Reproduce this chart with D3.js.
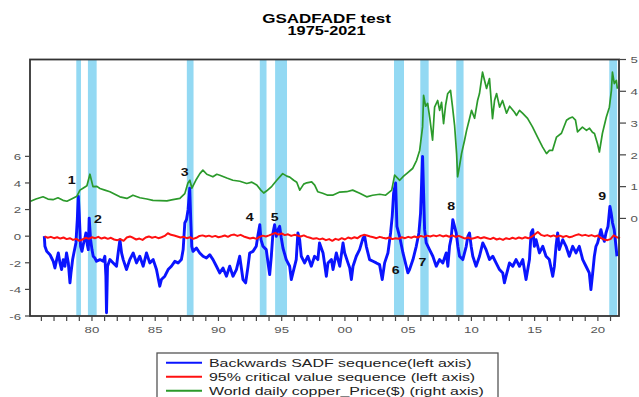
<!DOCTYPE html>
<html>
<head>
<meta charset="utf-8">
<script src="https://cdn.jsdelivr.net/npm/d3@7"></script>
<style>
  html, body { margin: 0; padding: 0; background: #fff; }
  svg { display: block; }
</style>
</head>
<body>
<svg id="chart" width="639" height="397"></svg>
<script>
// ---- Data -------------------------------------------------------------

// Bubble episodes (date-stamped periods where BSADF exceeds the 95% critical value)
const episodeStart = [1978.76, 1979.68, 1987.50, 1993.27, 1994.48, 2003.88, 2005.96, 2008.80, 2020.90];
const episodeEnd   = [1979.13, 1980.37, 1988.03, 1993.80, 1995.42, 2004.67, 2006.62, 2009.38, 2021.52];
const episodeLabel = ["1", "2", "3", "4", "5", "6", "7", "8", "9"];
// Where each episode number sits (year, left-axis value)
const episodeLabelYear  = [1978.39, 1980.47, 1987.34, 1992.48, 1994.45, 2004.01, 2006.12, 2008.41, 2020.34];
const episodeLabelValue = [4.16, 1.24, 4.74, 1.41, 1.39, -2.57, -1.99, 2.24, 2.99];

// World daily copper price, $/lb (right axis)
const copperYear = [
  1975.10, 1975.57, 1976.13, 1976.52, 1976.92, 1977.31, 1977.71, 1978.02, 1978.42, 1978.81,
  1979.05, 1979.29, 1979.60, 1979.84, 1980.08, 1980.39, 1980.63, 1981.02, 1981.42, 1981.81,
  1982.21, 1982.76, 1983.24, 1983.79, 1984.34, 1984.82, 1985.37, 1985.92, 1986.40, 1986.95,
  1987.34, 1987.58, 1987.74, 1987.90, 1988.21, 1988.53, 1988.77, 1989.08, 1989.56, 1989.87,
  1990.11, 1990.66, 1991.14, 1991.69, 1992.24, 1992.64, 1993.03, 1993.35, 1993.58, 1993.82,
  1994.22, 1994.61, 1995.08, 1995.40, 1995.64, 1995.95, 1996.19, 1996.43, 1996.74, 1996.98,
  1997.37, 1997.61, 1997.85, 1998.24, 1998.64, 1999.03, 1999.59, 2000.14, 2000.61, 2001.17,
  2001.72, 2002.19, 2002.75, 2003.22, 2003.70, 2003.93, 2004.33, 2004.64, 2004.88, 2005.35,
  2005.67, 2005.91, 2006.14, 2006.22, 2006.38, 2006.54, 2006.70, 2006.93, 2007.09, 2007.33,
  2007.49, 2007.64, 2007.80, 2007.96, 2008.12, 2008.35, 2008.51, 2008.67, 2008.83, 2008.91,
  2009.07, 2009.22, 2009.46, 2009.62, 2009.86, 2010.01, 2010.25, 2010.49, 2010.64, 2010.88,
  2011.04, 2011.20, 2011.43, 2011.67, 2011.83, 2011.99, 2012.23, 2012.46, 2012.78, 2013.02,
  2013.17, 2013.41, 2013.57, 2013.80, 2014.04, 2014.44, 2014.83, 2015.23, 2015.62, 2015.94,
  2016.17, 2016.41, 2016.73, 2017.12, 2017.52, 2017.75, 2017.99, 2018.23, 2018.39, 2018.78,
  2019.10, 2019.34, 2019.57, 2019.73, 2019.97, 2020.12, 2020.36, 2020.67, 2020.91, 2021.07,
  2021.15, 2021.30, 2021.46, 2021.54
];
const copperPrice = [
  0.53, 0.61, 0.68, 0.61, 0.59, 0.65, 0.57, 0.54, 0.62, 0.70,
  0.89, 0.95, 1.03, 1.39, 1.00, 1.01, 0.94, 0.89, 0.84, 0.76,
  0.68, 0.63, 0.73, 0.65, 0.61, 0.57, 0.56, 0.55, 0.59, 0.63,
  0.78, 1.11, 1.20, 0.95, 1.20, 1.41, 1.52, 1.39, 1.31, 1.39,
  1.36, 1.27, 1.20, 1.17, 1.10, 1.14, 1.05, 0.89, 0.80, 0.87,
  1.01, 1.20, 1.41, 1.33, 1.30, 1.20, 1.14, 0.89, 1.08, 1.12,
  1.15, 1.05, 0.84, 0.79, 0.73, 0.73, 0.83, 0.84, 0.89, 0.79,
  0.68, 0.73, 0.76, 0.73, 0.89, 1.36, 1.20, 1.33, 1.41, 1.57,
  1.83, 2.14, 2.88, 3.87, 3.53, 3.62, 3.19, 2.46, 3.50, 3.71,
  3.40, 3.65, 2.98, 3.56, 3.92, 4.03, 3.50, 2.93, 2.04, 1.31,
  1.67, 2.04, 2.46, 2.77, 3.15, 3.40, 3.15, 3.71, 3.93, 4.60,
  4.34, 4.09, 4.40, 3.14, 3.71, 3.93, 3.50, 3.71, 3.31, 3.53,
  3.46, 3.34, 3.24, 3.40, 3.31, 3.15, 2.88, 2.56, 2.25, 2.04,
  2.14, 2.14, 2.56, 2.68, 3.09, 3.15, 3.19, 3.09, 2.72, 2.87,
  2.77, 2.84, 2.71, 2.67, 2.35, 2.09, 2.68, 3.19, 3.50, 4.03,
  4.60, 4.24, 4.34, 4.08
];

// Backwards SADF sequence (left axis)
const sadfYear = [
  1976.23, 1976.28, 1976.42, 1976.68, 1976.81, 1976.94, 1977.07, 1977.21, 1977.34, 1977.47,
  1977.60, 1977.73, 1977.86, 1977.99, 1978.13, 1978.26, 1978.34, 1978.47, 1978.57, 1978.73,
  1978.84, 1978.92, 1978.99, 1979.10, 1979.21, 1979.31, 1979.44, 1979.52, 1979.63, 1979.71,
  1979.78, 1979.89, 1980.00, 1980.10, 1980.23, 1980.36, 1980.63, 1980.89, 1981.02, 1981.10,
  1981.15, 1981.23, 1981.42, 1981.68, 1981.94, 1982.07, 1982.21, 1982.34, 1982.47, 1982.73,
  1982.99, 1983.26, 1983.52, 1983.78, 1984.05, 1984.31, 1984.57, 1984.84, 1985.10, 1985.36,
  1985.49, 1985.76, 1986.02, 1986.28, 1986.55, 1986.81, 1987.07, 1987.21, 1987.34, 1987.47,
  1987.60, 1987.73, 1987.81, 1987.89, 1987.99, 1988.26, 1988.52, 1988.78, 1989.05, 1989.31,
  1989.57, 1989.84, 1990.10, 1990.36, 1990.63, 1990.89, 1991.15, 1991.42, 1991.68, 1991.94,
  1992.15, 1992.34, 1992.47, 1992.73, 1992.99, 1993.13, 1993.27, 1993.36, 1993.52, 1993.78,
  1993.92, 1994.05, 1994.18, 1994.31, 1994.44, 1994.57, 1994.71, 1994.84, 1994.97, 1995.10,
  1995.36, 1995.63, 1995.76, 1995.89, 1996.15, 1996.28, 1996.42, 1996.55, 1996.81, 1997.07,
  1997.34, 1997.60, 1997.86, 1997.99, 1998.27, 1998.53, 1998.66, 1998.93, 1999.06, 1999.32,
  1999.59, 1999.85, 1999.98, 2000.24, 2000.38, 2000.51, 2000.64, 2000.90, 2001.16, 2001.43,
  2001.56, 2001.69, 2001.95, 2002.22, 2002.48, 2002.74, 2002.95, 2003.14, 2003.40, 2003.61,
  2003.74, 2003.85, 2004.01, 2004.11, 2004.32, 2004.59, 2004.85, 2004.98, 2005.11, 2005.38,
  2005.64, 2005.85, 2005.98, 2006.14, 2006.30, 2006.43, 2006.69, 2006.95, 2007.22, 2007.48,
  2007.74, 2008.01, 2008.14, 2008.27, 2008.40, 2008.53, 2008.80, 2008.93, 2009.06, 2009.32,
  2009.59, 2009.72, 2009.85, 2009.98, 2010.11, 2010.37, 2010.64, 2010.90, 2011.16, 2011.43,
  2011.69, 2011.95, 2012.22, 2012.48, 2012.61, 2012.74, 2013.01, 2013.27, 2013.53, 2013.80,
  2014.06, 2014.32, 2014.59, 2014.72, 2014.85, 2014.98, 2015.11, 2015.38, 2015.64, 2015.90,
  2016.16, 2016.43, 2016.56, 2016.69, 2016.82, 2016.95, 2017.22, 2017.48, 2017.74, 2018.01,
  2018.27, 2018.53, 2018.80, 2019.06, 2019.32, 2019.45, 2019.59, 2019.72, 2019.85, 2019.98,
  2020.11, 2020.24, 2020.37, 2020.51, 2020.64, 2020.80, 2020.95, 2021.05, 2021.16, 2021.29,
  2021.43, 2021.51
];
const sadfValue = [
   0.00, -0.76, -1.14, -1.39, -1.64, -1.89, -2.39, -1.76, -1.26, -2.01,
  -2.51, -1.76, -2.26, -1.26, -2.01, -3.51, -2.76, -1.76, -1.26, -0.51,
   1.24,  2.99,  1.74, -0.76, -1.14, -0.64, -0.14,  0.24, -0.64, -1.01,
   1.36, -0.26, -1.01, -1.51, -1.64, -1.89, -1.76, -1.89, -1.51, -3.01,
  -5.76, -2.26, -1.76, -2.01, -2.26, -1.26, -0.26, -1.26, -1.76, -2.51,
  -1.76, -1.26, -2.01, -1.51, -2.26, -1.26, -2.01, -1.76, -2.51, -3.76,
  -3.26, -3.01, -2.51, -2.26, -1.89, -2.01, -1.76, -1.01,  0.99,  1.24,
   1.99,  3.61,  1.24, -0.76, -1.14, -0.89, -1.26, -1.51, -1.64, -1.39,
  -1.76, -2.26, -2.76, -2.39, -3.01, -2.26, -3.01, -2.51, -1.51, -3.26,
  -3.51, -2.26, -1.26, -1.14, -0.76,  0.11,  0.86, -0.26, -0.76, -1.01,
  -2.01, -2.89, -1.51,  0.24,  0.86, -0.01,  0.49,  0.74, -0.14, -0.89,
  -1.76, -2.26, -3.26, -2.76, -1.76,  0.24, -0.26, -1.51, -2.01, -1.51,
  -2.26, -1.51, -1.76, -0.51, -1.26, -3.01, -2.01, -1.76, -2.51, -1.26,
  -2.26, -0.51, -1.26, -2.01, -2.39, -3.26, -2.26, -1.51, -1.01, -0.14,
  -0.01, -0.76, -1.76, -1.89, -2.01, -2.14, -3.26, -2.01, -1.26,  0.24,
   1.49,  3.24,  4.00,  0.74, -0.01, -1.26, -2.26, -2.76, -2.51, -1.76,
  -0.76,  0.24,  1.74,  6.00,  0.49, -0.51, -1.01, -1.51, -2.26, -1.76,
  -2.01, -1.26, -2.26, -0.76, -0.14,  1.24,  0.24, -0.76, -1.51, -1.76,
  -0.76, -0.01,  0.24, -0.76, -1.51, -2.26, -1.51, -0.51, -1.01, -1.76,
  -1.51, -2.01, -2.51, -2.76, -3.51, -3.01, -2.01, -2.26, -1.76, -2.26,
  -1.76, -3.26, -1.76,  0.24,  0.49, -0.76, -0.26, -1.26, -0.76, -1.51,
  -1.76, -3.01, -2.26, -0.76,  0.24, -1.01, -0.26, -0.76, -1.51, -0.76,
  -1.26, -0.76, -1.76, -2.26, -2.76, -4.01, -2.76, -1.51, -0.76, -0.51,
  -0.01,  0.49, -0.01, -0.39,  0.24,  0.74,  2.24,  1.74,  0.99,  0.49,
  -0.76, -1.51
];

// 95% critical value sequence (left axis), quarterly from 1976 Q2
const critFirstYear = 1976.25;
const critPerYear = 4;
const critValue = [
  -0.02, -0.12, -0.05,
  -0.15, -0.08, -0.18, -0.10,
  -0.22, -0.15, -0.28, -0.20,
  -0.35, -0.25, -0.12, -0.20,
  -0.08, -0.15, -0.05, -0.18,
  -0.10, -0.20, -0.12, -0.25,
  -0.30, -0.22, -0.35, -0.10,
  -0.02, -0.12, -0.25, -0.18,
  -0.28, -0.10, -0.02, -0.12,
  -0.05, -0.15, -0.08,  0.02,
   0.22,  0.10,  0.05, -0.02,
  -0.10, -0.05, -0.15, -0.08,
  -0.20, -0.12,  0.02,  0.06,
  -0.02,  0.04, -0.05,  0.02,
  -0.08, -0.02,  0.05, -0.05,
   0.08,  0.12,  0.02,  0.10,
  -0.02, -0.10, -0.18, -0.12,
  -0.20, -0.05,  0.04, -0.02,
   0.06,  0.15,  0.24,  0.12,
   0.20,  0.08,  0.14,  0.02,
   0.10,  0.05, -0.02,  0.06,
  -0.05, -0.12, -0.20, -0.15,
  -0.24, -0.18, -0.30, -0.22,
  -0.35, -0.20, -0.28, -0.15,
  -0.25, -0.10, -0.18, -0.08,
  -0.15,  0.02,  0.10,  0.05,
  -0.02, -0.08, -0.15, -0.05,
  -0.12, -0.18, -0.10, -0.22,
  -0.15, -0.20, -0.08, -0.15,
  -0.05, -0.12, -0.02, -0.10,
   0.02, -0.05,  0.04, -0.02,
   0.06,  0.00,  0.08, -0.02,
   0.05, -0.04,  0.06, -0.06,
   0.02, -0.08, -0.18, -0.10,
  -0.20, -0.14, -0.06, -0.16,
  -0.08, -0.15, -0.22, -0.12,
  -0.25, -0.18, -0.28, -0.15,
  -0.22, -0.12, -0.20, -0.10,
  -0.18, -0.08, -0.16, -0.05,
   0.12,  0.32,  0.10,  0.02,
   0.08, -0.02,  0.06, -0.04,
   0.04, -0.06,  0.02, -0.08,
  -0.02,  0.08,  0.14,  0.04,
   0.10,  0.02,  0.08, -0.02,
   0.05, -0.15, -0.25, -0.30,
  -0.22,  0.06, -0.08, -0.15
];

// Axis ticks
const leftTicks  = [-6, -4, -2, 0, 2, 4, 6];
const rightTicks = [0, 1, 2, 3, 4, 5];
const yearTicks  = d3.range(1976, 2022);
const yearLabelTicks = [1980, 1985, 1990, 1995, 2000, 2005, 2010, 2015, 2020];

const legendItems = [
  { text: "Backwards SADF sequence(left axis)", color: "#0a14ff" },
  { text: "95% critical value sequence (left axis)", color: "#ff1010" },
  { text: "World daily copper_Price($) (right axis)", color: "#2b9a2b" }
];

// ---- Layout -----------------------------------------------------------
const svg = d3.select("#chart");
const plot = { left: 30, right: 619, top: 59.5, bottom: 316 };
const FONT = "'Liberation Sans', Arial, Helvetica, sans-serif";
const SX = 1.35; // horizontal text stretch used throughout the chart

const x  = d3.scaleLinear().domain([1975.1, 2021.67]).range([plot.left, plot.right]);
const yL = d3.scaleLinear().domain([-6, 13.28]).range([plot.bottom, plot.top]);
const yR = d3.scaleLinear().domain([-3.07, 5]).range([plot.bottom, plot.top]);

function label(parent, px, py, str, o) {
  const g = parent.append("g").attr("transform", `translate(${px},${py}) scale(${o.sx || SX},1)`);
  return g.append("text")
    .attr("x", 0).attr("y", 0)
    .attr("font-family", FONT)
    .attr("font-size", o.size)
    .attr("font-weight", o.weight || "normal")
    .attr("fill", o.fill || "#000")
    .attr("text-anchor", o.anchor || "start")
    .attr("dominant-baseline", o.baseline || "alphabetic")
    .text(str);
}

// ---- Title ------------------------------------------------------------
label(svg, 326.5, 22.7, "GSADFADF test", { size: 12, weight: "bold", anchor: "middle", sx: 1.42 });
label(svg, 326.5, 35.3, "1975-2021", { size: 12, weight: "bold", anchor: "middle", sx: 1.36 });

// ---- Episode shading -----------------------------------------------------
const bands = svg.append("g");
bands.selectAll("rect").data(d3.range(episodeStart.length)).join("rect")
  .attr("x", i => x(episodeStart[i]))
  .attr("width", i => x(episodeEnd[i]) - x(episodeStart[i]))
  .attr("y", plot.top)
  .attr("height", plot.bottom - plot.top)
  .attr("fill", "#93d9f3");

// ---- Series -------------------------------------------------------------
const sadfLine = d3.line().x(i => x(sadfYear[i])).y(i => yL(sadfValue[i]));
svg.append("path")
  .attr("d", sadfLine(d3.range(sadfYear.length)))
  .attr("fill", "none").attr("stroke", "#0a14ff")
  .attr("stroke-width", 2.9).attr("stroke-linejoin", "round");

const critLine = d3.line()
  .x((v, i) => x(critFirstYear + i / critPerYear))
  .y(v => yL(v));
svg.append("path")
  .attr("d", critLine(critValue))
  .attr("fill", "none").attr("stroke", "#ff1010")
  .attr("stroke-width", 2).attr("stroke-linejoin", "round");

const copperLine = d3.line().x(i => x(copperYear[i])).y(i => yR(copperPrice[i]));
svg.append("path")
  .attr("d", copperLine(d3.range(copperYear.length)))
  .attr("fill", "none").attr("stroke", "#2b9a2b")
  .attr("stroke-width", 1.7).attr("stroke-linejoin", "round");

// ---- Episode numbers ----------------------------------------------------
episodeLabel.forEach((t, i) => {
  label(svg, x(episodeLabelYear[i]), yL(episodeLabelValue[i]), t,
    { size: 10.5, weight: "bold", anchor: "middle", baseline: "central", fill: "#111" });
});

// ---- Frame and axes -------------------------------------------------------
svg.append("rect")
  .attr("x", plot.left).attr("y", plot.top)
  .attr("width", plot.right - plot.left).attr("height", plot.bottom - plot.top)
  .attr("fill", "none").attr("stroke", "#333").attr("stroke-width", 1.8);

const axisG = svg.append("g").attr("stroke", "#444").attr("stroke-width", 1.2);
// left ticks
axisG.selectAll(".lt").data(leftTicks).join("line")
  .attr("x1", plot.left - 5).attr("x2", plot.left)
  .attr("y1", d => yL(d)).attr("y2", d => yL(d));
leftTicks.forEach(d => label(svg, 21, yL(d), String(d),
  { size: 9.8, anchor: "end", baseline: "central", fill: "#555" }));

// right ticks
axisG.selectAll(".rt").data(rightTicks).join("line")
  .attr("x1", plot.right).attr("x2", plot.right + 7)
  .attr("y1", d => yR(d)).attr("y2", d => yR(d));
rightTicks.forEach(d => label(svg, 630.5, yR(d), String(d),
  { size: 9.8, anchor: "start", baseline: "central", fill: "#555" }));

// bottom ticks
axisG.selectAll(".bt").data(yearTicks).join("line")
  .attr("x1", d => x(d)).attr("x2", d => x(d))
  .attr("y1", plot.bottom).attr("y2", plot.bottom + 5);
yearLabelTicks.forEach(d => label(svg, x(d), 332.7, d3.format("02d")(d % 100),
  { size: 9.8, anchor: "middle", fill: "#555" }));

// ---- Legend -------------------------------------------------------------
const legend = svg.append("g");
legend.append("rect")
  .attr("x", 157).attr("y", 353).attr("width", 341).attr("height", 60)
  .attr("fill", "#fff").attr("stroke", "#555").attr("stroke-width", 1.3);
legendItems.forEach((it, i) => {
  const ly = 362.7 + i * 14;
  legend.append("line")
    .attr("x1", 166).attr("x2", 202).attr("y1", ly).attr("y2", ly)
    .attr("stroke", it.color).attr("stroke-width", 2);
  label(legend, 209, ly, it.text, { size: 11.8, baseline: "central", fill: "#222" });
});
</script>
</body>
</html>
